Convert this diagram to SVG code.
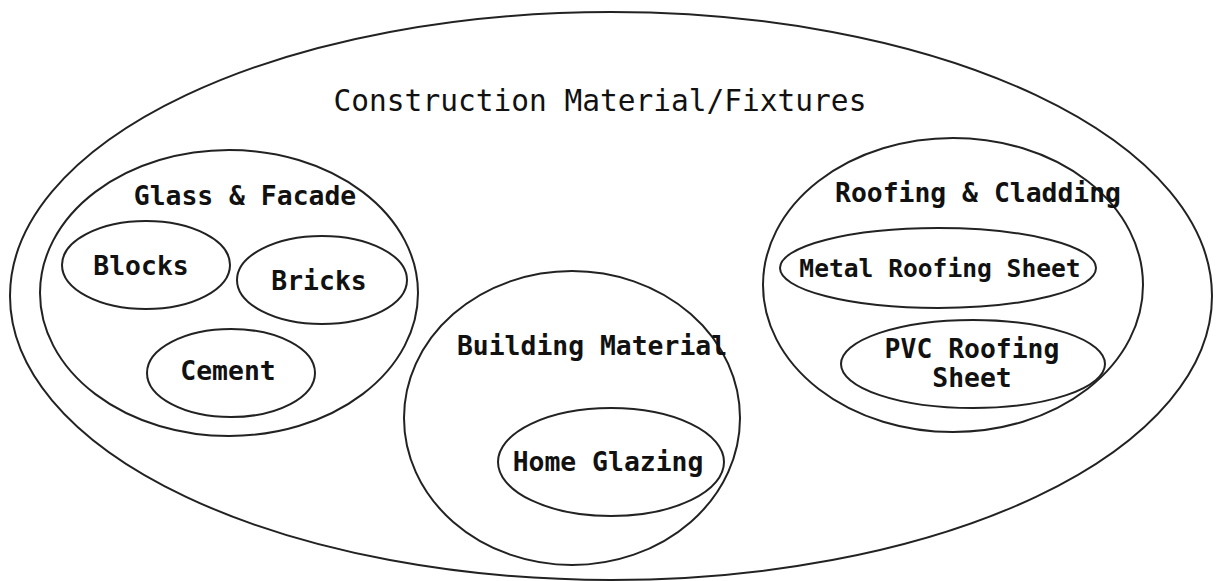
<svg xmlns="http://www.w3.org/2000/svg" width="1218" height="581" viewBox="0 0 1218 581">
<style>
.e{fill:none;stroke:#222;stroke-width:2}
.t{font-family:"DejaVu Sans Mono","Liberation Mono",monospace;fill:#111;text-anchor:middle}
.b{font-weight:bold;font-size:26.4px}
.title{font-size:29.5px}
</style>
<rect width="1218" height="581" fill="#fff"/>
<g id="construction">
<ellipse class="e" cx="611" cy="296" rx="601" ry="284"/>
<text class="t title" x="600" y="111">Construction Material/Fixtures</text>
</g>
<g id="glass-facade">
<ellipse class="e" cx="229" cy="293" rx="189" ry="143"/>
<text class="t b" x="245" y="205">Glass &amp; Facade</text>
</g>
<g id="blocks">
<ellipse class="e" cx="146" cy="265" rx="84" ry="44"/>
<text class="t b" x="141" y="275">Blocks</text>
</g>
<g id="bricks">
<ellipse class="e" cx="322" cy="280" rx="85" ry="44"/>
<text class="t b" x="319" y="290">Bricks</text>
</g>
<g id="cement">
<ellipse class="e" cx="231" cy="373" rx="84" ry="44"/>
<text class="t b" x="228" y="380">Cement</text>
</g>
<g id="building-material">
<ellipse class="e" cx="572" cy="418" rx="168" ry="147"/>
<text class="t b" x="592" y="355">Building Material</text>
</g>
<g id="home-glazing">
<ellipse class="e" cx="611" cy="462" rx="113" ry="54"/>
<text class="t b" x="608" y="471">Home Glazing</text>
</g>
<g id="roofing-cladding">
<ellipse class="e" cx="953" cy="285" rx="190" ry="147"/>
<text class="t b" x="978" y="202">Roofing &amp; Cladding</text>
</g>
<g id="metal-roofing">
<ellipse class="e" cx="938" cy="268" rx="158" ry="40"/>
<text class="t b" style="font-size:24.6px" x="940" y="277">Metal Roofing Sheet</text>
</g>
<g id="pvc-roofing">
<ellipse class="e" cx="973" cy="364" rx="132" ry="44"/>
<text class="t b" x="972" y="358">PVC Roofing</text>
<text class="t b" x="972" y="387">Sheet</text>
</g>
<g id="connectors"/>
</svg>
